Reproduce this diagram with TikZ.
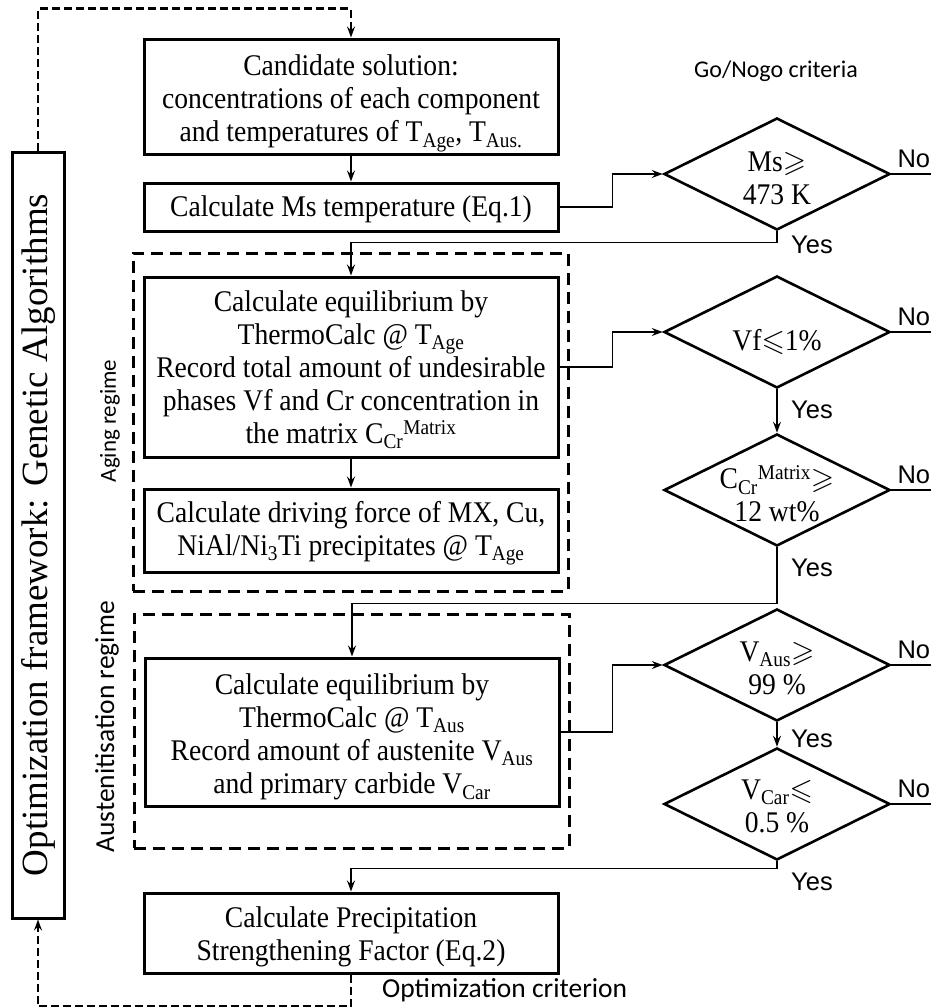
\documentclass[tikz,border=0pt]{standalone}
\usepackage{fontspec}
\setmainfont{Liberation Serif}
\newfontfamily\condserif[FakeStretch=0.92]{Liberation Serif}
\newfontfamily\arialf{Liberation Sans}
\newfontfamily\calib{Carlito}
\usepackage{amssymb}
\usetikzlibrary{shapes.geometric,arrows.meta}
\begin{document}
\begin{tikzpicture}[x=1pt,y=-1pt,
  txt/.style={font=\condserif\fontsize{30}{33}\selectfont},
  procbox/.style={draw, line width=3pt, inner sep=0pt},
  boxtext/.style={align=center, inner sep=0pt, txt},
  dec/.style={draw, diamond, line width=2.6pt, minimum width=226pt, minimum height=112pt, inner sep=0pt},
  dectext/.style={align=center, inner sep=0pt, txt},
  conn/.style={line width=1.6pt, -{Stealth[length=11pt,width=8pt,inset=4pt]}},
  plain/.style={line width=1.6pt},
  regionbox/.style={draw, line width=3pt, dash pattern=on 12pt off 7pt, inner sep=0pt},
  loop/.style={line width=2.6pt, dash pattern=on 8pt off 4pt, -{Stealth[length=11pt,width=8pt,inset=4pt]}},
  yn/.style={font=\arialf\fontsize{25.5}{30}\selectfont, inner sep=0pt, anchor=base west},
  lab/.style={inner sep=0pt}
]
\useasboundingbox (0,0) rectangle (931,1007);

% region boxes
\node[regionbox, minimum width=435pt, minimum height=338pt] (agebox) at (350.5,422) {};
\node[regionbox, minimum width=435pt, minimum height=234pt] (ausbox) at (351.5,731) {};

% process boxes
\node[procbox, minimum width=414pt, minimum height=115pt] (cand) at (351,96.5) {};
\node[procbox, minimum width=414pt, minimum height=48pt] (ms) at (351,207) {};
\node[procbox, minimum width=414pt, minimum height=180pt] (eq1) at (351,367) {};
\node[procbox, minimum width=414pt, minimum height=83pt] (drive) at (351,530.5) {};
\node[procbox, minimum width=414pt, minimum height=148pt] (aus) at (352,732) {};
\node[procbox, minimum width=414pt, minimum height=80pt] (psf) at (351,933) {};

\node[boxtext, yshift=-7pt] (candtext) at (cand.center)
  {Candidate solution:\\concentrations of each component\\and temperatures of T\textsubscript{Age}, T\textsubscript{Aus.}};
\node[boxtext, yshift=-2pt] (mstext) at (ms.center)
  {Calculate Ms temperature (Eq.1)};
\node[boxtext, yshift=-3pt] (eq1text) at (eq1.center)
  {Calculate equilibrium by\\ThermoCalc @ T\textsubscript{Age}\\Record total amount of undesirable\\phases Vf and Cr concentration in\\the matrix C\textsubscript{Cr}\textsuperscript{Matrix}};
\node[boxtext, yshift=-3pt] (drivetext) at (drive.center)
  {Calculate driving force of MX, Cu,\\NiAl/Ni\textsubscript{3}Ti precipitates @ T\textsubscript{Age}};
\node[boxtext, yshift=-5pt] (austext) at (aus.center)
  {Calculate equilibrium by\\ThermoCalc @ T\textsubscript{Aus}\\Record amount of austenite V\textsubscript{Aus}\\and primary carbide V\textsubscript{Car}};
\node[boxtext, yshift=-4pt] (psftext) at (psf.center)
  {Calculate Precipitation\\Strengthening Factor (Eq.2)};

% optimization framework
\node[draw, line width=3pt, minimum width=52pt, minimum height=766pt, inner sep=0pt] (opt) at (38,535) {};
\node[rotate=90, inner sep=0pt, font=\fontsize{37}{40}\selectfont] (optlabel) at (opt.center) {Optimization framework: Genetic Algorithms};

% region labels
\node[lab, rotate=90, font=\calib\fontsize{23}{28}\selectfont] (aginglab) at (110,421) {Aging regime};
\node[lab, rotate=90, font=\calib\fontsize{27.5}{30}\selectfont] (auslab) at (107,727) {Austenitisation regime};

% diamonds
\node[dec] (d1) at (777,174) {};
\node[dec] (d2) at (777,332) {};
\node[dec] (d3) at (777,490) {};
\node[dec] (d4) at (777,665) {};
\node[dec] (d5) at (777,804) {};
\node[dectext] (t1) at (777,178) {Ms$\geqslant$\\473 K};
\node[dectext] (t2) at (777,342) {Vf$\leqslant$1\%};
\node[dectext] (t3) at (777,494) {C\textsubscript{Cr}\textsuperscript{Matrix}$\geqslant$\\12 wt\%};
\node[dectext] (t4) at (777,668) {V\textsubscript{Aus}$\geqslant$\\99 \%};
\node[dectext] (t5) at (777,806) {V\textsubscript{Car}$\leqslant$\\0.5 \%};

% headings
\node[lab, font=\calib\fontsize{24}{28}\selectfont, anchor=base] (gonogo) at (776,77) {Go/Nogo criteria};
\node[lab, font=\calib\fontsize{27.5}{30}\selectfont, anchor=base west] (optcrit) at (382,997) {Optimization criterion};

% main flow
\draw[conn] (cand.south) -- (ms.north);
\draw[conn] (eq1.south) -- (drive.north);
\draw[conn] (ms.east) -- ++(53,0) |- (d1.west);
\draw[conn] (eq1.east) -- ++(53,0) |- (d2.west);
\draw[conn] (aus.east) -- ++(52,0) |- (d4.west);
\draw[conn] (d1.south) -- ++(0,11) -| (eq1.north);
\draw[conn] (d2.south) -- (d3.north);
\draw[conn] (d3.south) -- ++(0,56) -| (aus.north);
\draw[conn] (d4.south) -- (d5.north);
\draw[conn] (d5.south) -- ++(0,7) -| (psf.north);

% No lines
\draw[plain] (d1.east) -- ++(44,0);
\draw[plain] (d2.east) -- ++(44,0);
\draw[plain] (d3.east) -- ++(44,0);
\draw[plain] (d4.east) -- ++(44,0);
\draw[plain] (d5.east) -- ++(44,0);
\node[yn] (no1) at ([xshift=6pt,yshift=7pt]d1.east) {No};
\node[yn] (no2) at ([xshift=6pt,yshift=7pt]d2.east) {No};
\node[yn] (no3) at ([xshift=6pt,yshift=7pt]d3.east) {No};
\node[yn] (no4) at ([xshift=6pt,yshift=7pt]d4.east) {No};
\node[yn] (no5) at ([xshift=6pt,yshift=7pt]d5.east) {No};

% Yes labels
\node[yn] (y1) at ([xshift=14pt,yshift=-22pt]d1.south) {Yes};
\node[yn] (y2) at ([xshift=14pt,yshift=-29pt]d2.south) {Yes};
\node[yn] (y3) at ([xshift=14pt,yshift=-29pt]d3.south) {Yes};
\node[yn] (y4) at ([xshift=14pt,yshift=-25pt]d4.south) {Yes};
\node[yn] (y5) at ([xshift=14pt,yshift=-29pt]d5.south) {Yes};

% loops
\draw[loop] (opt.north) -- ++(0,-142) -| (cand.north);
\draw[loop] (psf.south) -- ++(0,32) -| (opt.south);
\end{tikzpicture}
\end{document}
